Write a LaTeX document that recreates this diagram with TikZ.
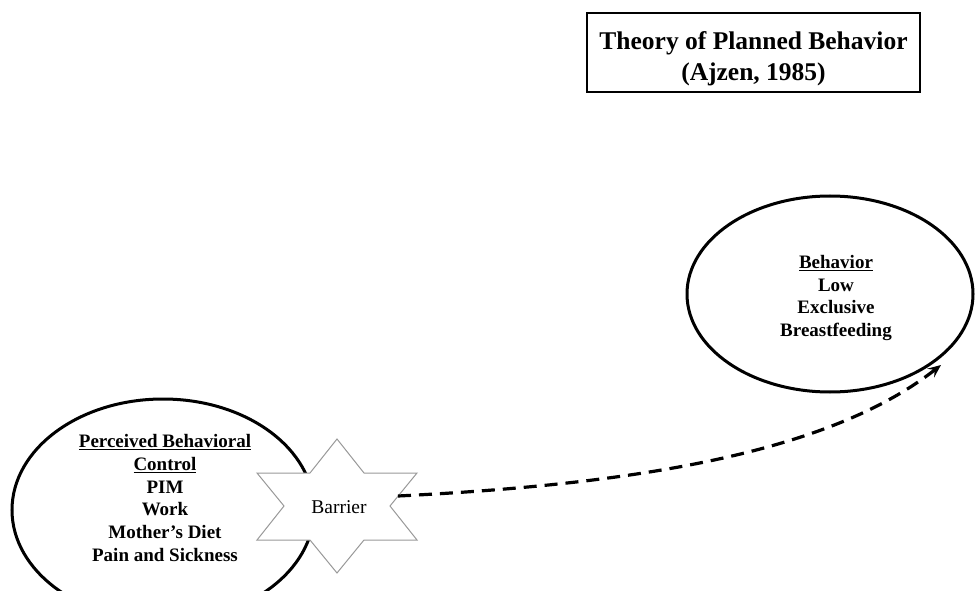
\documentclass[tikz,border=0pt]{standalone}
\usepackage{fontspec}
\setmainfont{Liberation Serif}
\usetikzlibrary{arrows.meta}
\begin{document}
\begin{tikzpicture}[x=1pt,y=-1pt,
  oval/.style={draw=black,line width=3pt},
  bodytext/.style={font=\bfseries\fontsize{19}{22.7}\selectfont,align=center,text=black},
  link/.style={line width=3.2pt,dash pattern=on 13pt off 8pt,-{Stealth[length=13pt,width=11pt,inset=5pt]}}]
\useasboundingbox (0,0) rectangle (975,591);
\begin{scope}
\clip (0,0) rectangle (975,591);
% title
\node[draw,line width=2.8pt,minimum width=333pt,minimum height=79pt] (titlebox) at (753.5,52.5) {};
\node[align=center,font=\bfseries\fontsize{25.5}{31}\selectfont] (title) at (753.5,59)
  {Theory of Planned Behavior\\(Ajzen, 1985)};
% behavior ellipse
\draw[oval] (830,294) ellipse [x radius=143, y radius=98];
\node[bodytext] (beh) at (836,298) {\underline{Behavior}\\Low\\Exclusive\\Breastfeeding};
% PBC ellipse
\draw[oval] (163,510) ellipse [x radius=151, y radius=111];
\node[bodytext] (pbc) at (165,498) {\underline{Perceived Behavioral}\\\underline{Control}\\PIM\\Work\\Mother’s Diet\\Pain and Sickness};
% star
\draw[fill=white,draw=gray!80,line width=1pt] (337,439) -- (364,473) -- (417,473) -- (390,506) -- (417,540) -- (364,540)
  -- (337,573) -- (310,540) -- (257,540) -- (284,506) -- (257,473) -- (310,473) -- cycle;
\node[font=\fontsize{19.5}{22}\selectfont] (barrier) at (339,507) {Barrier};
\coordinate (start) at (398,496);
\coordinate (end) at (941,365);
\draw[link] (start) .. controls (640,484) and (830,452) .. (end);
\end{scope}
\end{tikzpicture}
\end{document}
